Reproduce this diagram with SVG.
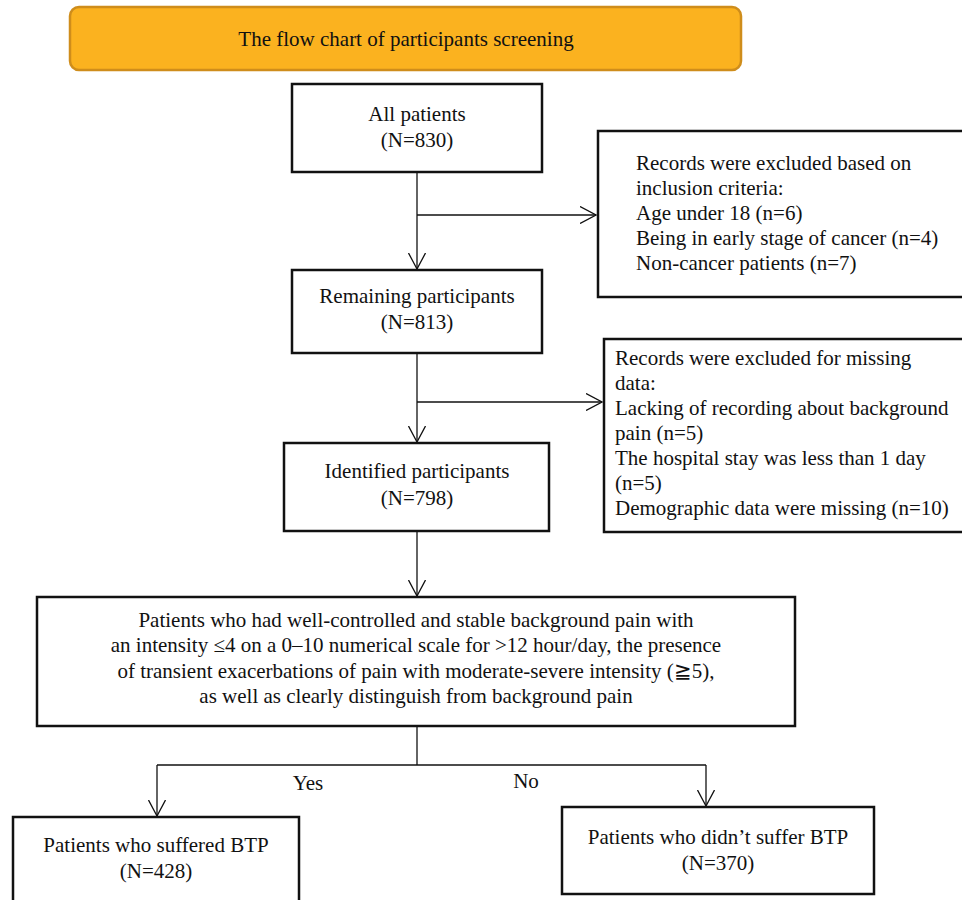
<svg xmlns="http://www.w3.org/2000/svg" width="962" height="900" viewBox="0 0 962 900">
<defs>
<style>
.box{fill:#ffffff;stroke:#111111;stroke-width:2.5}
.ln{fill:none;stroke:#111111;stroke-width:1.3}
text{font-family:"Liberation Serif","Times New Roman",serif;font-size:21px;fill:#111111}
.c{text-anchor:middle}
</style>
<marker id="arr" markerUnits="userSpaceOnUse" viewBox="0 0 17 18" refX="16" refY="9" markerWidth="17" markerHeight="18" orient="auto">
<path d="M0,0.5 L16,9 L0,17.5" fill="none" stroke="#111111" stroke-width="1.3"/>
</marker>
</defs>
<rect width="962" height="900" fill="#ffffff"/>

<g id="title">
<rect x="70" y="7" width="671" height="63" rx="9" ry="9" fill="#FBB21F" stroke="#CF8D1B" stroke-width="2.5"/>
<text class="c" x="406" y="46">The flow chart of participants screening</text>
</g>

<g id="connectors">
<line class="ln" x1="417" y1="172" x2="417" y2="269" marker-end="url(#arr)"/>
<line class="ln" x1="417" y1="215" x2="596" y2="215" marker-end="url(#arr)"/>
<line class="ln" x1="417" y1="354" x2="417" y2="442" marker-end="url(#arr)"/>
<line class="ln" x1="417" y1="402" x2="602" y2="402" marker-end="url(#arr)"/>
<line class="ln" x1="417" y1="532" x2="417" y2="596" marker-end="url(#arr)"/>
<line class="ln" x1="417" y1="727" x2="417" y2="765"/>
<line class="ln" x1="157" y1="765" x2="706" y2="765"/>
<line class="ln" x1="157" y1="765" x2="157" y2="816" marker-end="url(#arr)"/>
<line class="ln" x1="706" y1="765" x2="706" y2="806" marker-end="url(#arr)"/>
<text class="c" x="308" y="790">Yes</text>
<text class="c" x="526" y="788">No</text>
</g>

<g id="all-patients">
<rect class="box" x="292" y="84" width="250" height="88"/>
<text class="c" x="417" y="121">All patients</text>
<text class="c" x="417" y="147">(N=830)</text>
</g>

<g id="excluded-inclusion">
<rect class="box" x="598" y="131" width="372" height="166"/>
<text x="636" y="170">Records were excluded based on</text>
<text x="636" y="195">inclusion criteria:</text>
<text x="636" y="220">Age under 18 (n=6)</text>
<text x="636" y="245">Being in early stage of cancer (n=4)</text>
<text x="636" y="270">Non-cancer patients (n=7)</text>
</g>

<g id="remaining">
<rect class="box" x="292" y="270" width="250" height="83"/>
<text class="c" x="417" y="303">Remaining participants</text>
<text class="c" x="417" y="329">(N=813)</text>
</g>

<g id="excluded-missing">
<rect class="box" x="604" y="339" width="366" height="193"/>
<text x="615" y="365">Records were excluded for missing</text>
<text x="615" y="390">data:</text>
<text x="615" y="415">Lacking of recording about background</text>
<text x="615" y="440">pain (n=5)</text>
<text x="615" y="465">The hospital stay was less than 1 day</text>
<text x="615" y="490">(n=5)</text>
<text x="615" y="515">Demographic data were missing (n=10)</text>
</g>

<g id="identified">
<rect class="box" x="284" y="443" width="265" height="88"/>
<text class="c" x="417" y="478">Identified participants</text>
<text class="c" x="417" y="505">(N=798)</text>
</g>

<g id="criteria">
<rect class="box" x="37" y="597" width="758" height="129"/>
<text class="c" x="416" y="627">Patients who had well-controlled and stable background pain with</text>
<text class="c" x="416" y="652">an intensity ≤4 on a 0–10 numerical scale for &gt;12 hour/day, the presence</text>
<text class="c" x="416" y="678">of transient exacerbations of pain with moderate-severe intensity (≧5),</text>
<text class="c" x="416" y="703">as well as clearly distinguish from background pain</text>
</g>

<g id="btp-yes">
<rect class="box" x="13" y="817" width="286" height="95"/>
<text class="c" x="156" y="852">Patients who suffered BTP</text>
<text class="c" x="156" y="878">(N=428)</text>
</g>

<g id="btp-no">
<rect class="box" x="562" y="807" width="312" height="87"/>
<text class="c" x="718" y="844">Patients who didn’t suffer BTP</text>
<text class="c" x="718" y="870">(N=370)</text>
</g>
</svg>
